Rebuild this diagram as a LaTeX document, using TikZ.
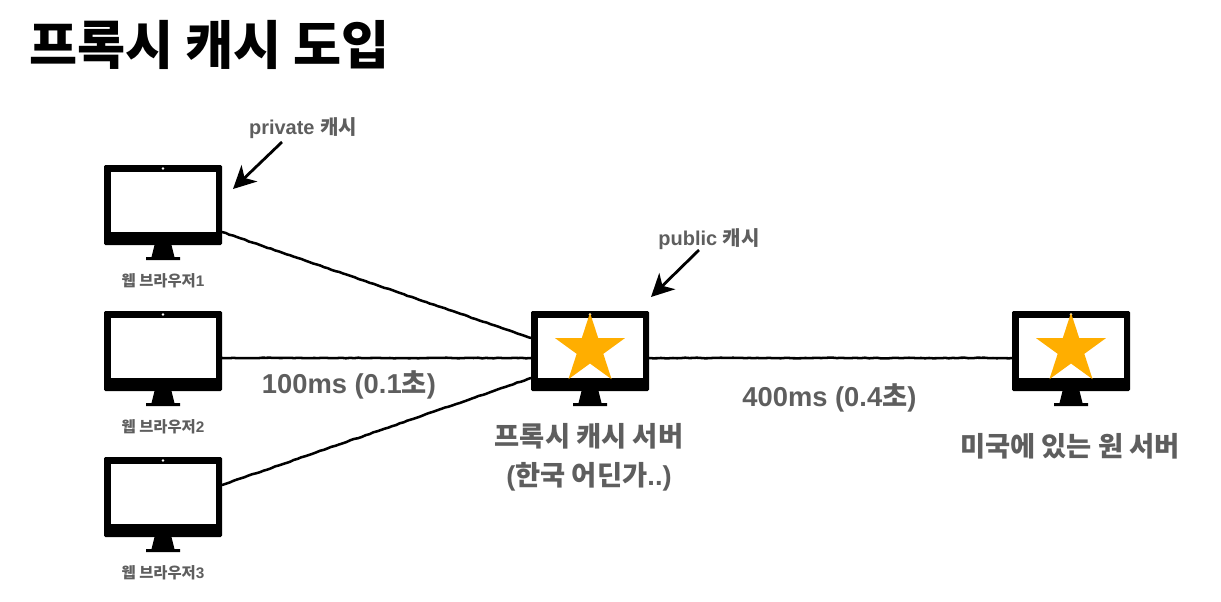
\documentclass[tikz,border=0pt]{standalone}
\usepackage{fontspec}
\setmainfont{Liberation Sans}
\newfontfamily\kr{Noto Sans CJK KR}
\usetikzlibrary{shapes.geometric,arrows.meta,decorations.pathmorphing}
\definecolor{lbl}{HTML}{5E5E5E}
\definecolor{starc}{HTML}{FFAE00}
\tikzset{
  px/.style={x=0.75pt,y=-0.75pt},
  body/.style={fill=black,draw=none,rounded corners=1pt,minimum width=88.5pt,minimum height=60pt,inner sep=0pt,outer sep=0pt},
  screen/.style={fill=white,draw=none,inner sep=0pt,minimum width=78.75pt,minimum height=45pt},
  starn/.style={star,star points=5,star point ratio=2.618,fill=starc,draw=none,inner sep=0pt,minimum size=55pt},
  wire/.style={line width=1.9pt,black,line cap=round,decorate,decoration={random steps,segment length=3pt,amplitude=0.25pt}},
  callout/.style={line width=2.1pt,black,-{Stealth[length=17pt,width=17pt,inset=5pt]}},
  lab/.style={text=lbl,font=\bfseries,align=center,inner sep=0pt},
  small/.style={lab,font=\bfseries\fontsize{11.5}{13}\selectfont},
  mid/.style={lab,font=\bfseries\fontsize{15}{18}\selectfont},
  big/.style={lab,font=\bfseries\fontsize{20.5}{29}\selectfont},
}
\newcommand{\monitor}[3]{%
  \node[body] (#1) at (#2,#3) {};
  \node[screen] (#1s) at (#2,#3+-3) {};
  \node[fill=white,circle,inner sep=0pt,minimum size=2pt] (#1c) at (#2,#3-36.5) {};
  \fill[black] (#2-8.5,#3+40) -- (#2+8.5,#3+40) -- (#2+11.5,#3+52) -- (#2+17,#3+52) -- (#2+17,#3+55) -- (#2-17,#3+55) -- (#2-17,#3+52) -- (#2-11.5,#3+52) -- cycle;
}
\begin{document}
\begin{tikzpicture}[px]
\useasboundingbox (0,0) rectangle (1221,601);
\monitor{a}{163}{205}
\monitor{b}{163}{351}
\monitor{c}{163}{497}
\monitor{p}{590}{351}
\monitor{o}{1071}{351}
\node[starn] (ps) at (590,349.5) {};
\node[starn] (os) at (1071,349.5) {};
\node[inner sep=0pt,anchor=west,font=\bfseries\fontsize{39.2}{46}\selectfont\kr] (title) at (29,45) {프록시 캐시 도입};
\node[small] (al) at (163,281) {{\kr 웹 브라우저}1};
\node[small] (bl) at (163,427) {{\kr 웹 브라우저}2};
\node[small] (cl) at (163,573) {{\kr 웹 브라우저}3};
\node[mid] (priv) at (303,128.5) {private {\kr 캐시}};
\node[mid] (publ) at (709,239.5) {public {\kr 캐시}};
\node[big] (t1) at (349,385) {100ms (0.1{\kr 초})};
\node[big] (t2) at (829.5,398) {400ms (0.4{\kr 초})};
\node[big] (pl) at (589,457) {{\kr 프록시 캐시 서버}\\({\kr 한국 어딘가}..)};
\node[big] (ol) at (1070,446) {{\kr 미국에 있는 원 서버}};
\coordinate (pa) at (282,142);
\coordinate (pb) at (233,189);
\coordinate (qa) at (699,250);
\coordinate (qb) at (651,297);
\draw[callout] (pa) -- (pb);
\draw[callout] (qa) -- (qb);
\draw[wire] ([yshift=-20.25pt]a.east) -- ([yshift=9.75pt]p.west);
\draw[wire] ([yshift=-5.25pt]b.east) -- ([yshift=-5.25pt]p.west);
\draw[wire] ([yshift=9pt]c.east) -- ([yshift=-20.25pt]p.west);
\draw[wire] ([yshift=-5.25pt]p.east) -- ([yshift=-5.25pt]o.west);
\end{tikzpicture}
\end{document}
